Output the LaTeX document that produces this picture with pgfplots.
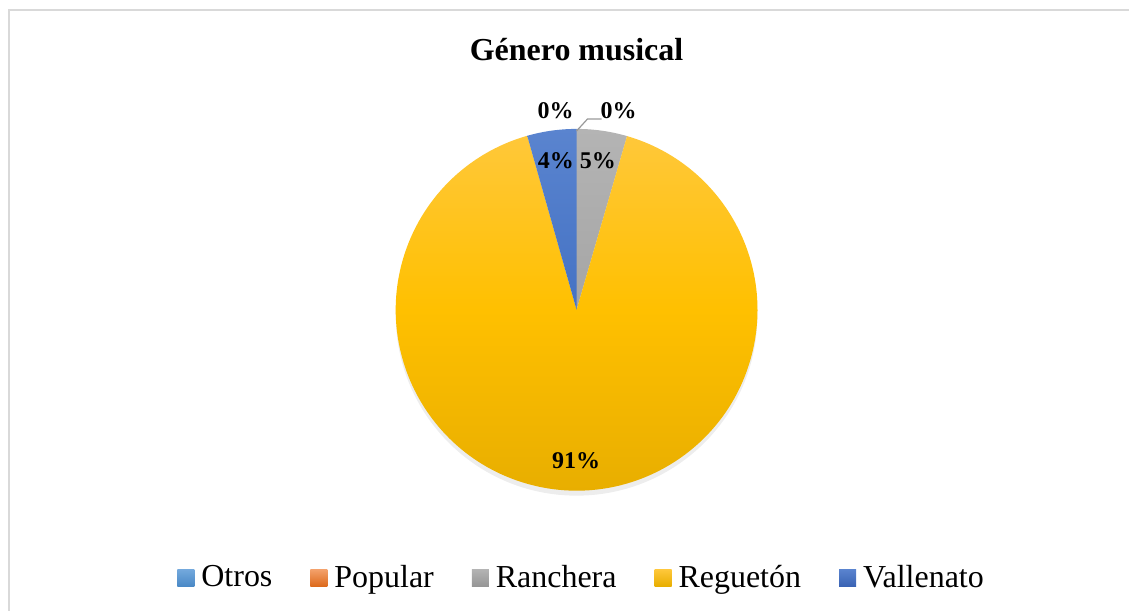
\documentclass[border=0pt]{standalone}
\usepackage{fontspec}
\setmainfont{Liberation Serif}
\usepackage{pgfplots}
\usepackage{pgfplotstable}
\pgfplotsset{compat=1.18}

% Office palette, light top / base / dark bottom
\definecolor{otrosT}{HTML}{74A9DD}\definecolor{otrosM}{HTML}{5B9BD5}\definecolor{otrosB}{HTML}{4A89C6}
\definecolor{popT}{HTML}{F4A26C}\definecolor{popM}{HTML}{ED7D31}\definecolor{popB}{HTML}{DD6A1C}
\definecolor{ranT}{HTML}{B4B4B4}\definecolor{ranM}{HTML}{A5A5A5}\definecolor{ranB}{HTML}{969696}
\definecolor{regT}{HTML}{FFC83C}\definecolor{regM}{HTML}{FFC000}\definecolor{regB}{HTML}{E8AE00}
\definecolor{valT}{HTML}{5A84CF}\definecolor{valM}{HTML}{4472C4}\definecolor{valB}{HTML}{3A63B4}

\pgfplotstableread{
genre value
Otros 0
Popular 0
Ranchera 4.5
Regueton 91.1
Vallenato 4.4
}\genretable

% pie centre (px coords, y up) and radius
\def\cx{577}\def\cy{301}
\def\R{90.5pt}

\newcommand\slice[5]{%
  \begin{scope}
    \clip (axis cs:\cx,\cy) -- ([shift={(#1:\R)}]axis cs:\cx,\cy)
      arc[start angle=#1, end angle=#2, radius=\R] -- cycle;
    \shade[top color=#3, bottom color=#5, middle color=#4]
      ([shift={(-91pt,-91pt)}]axis cs:\cx,\cy) rectangle ([shift={(91pt,91pt)}]axis cs:\cx,\cy);
  \end{scope}}

\begin{document}
\begin{tikzpicture}
\pgfplotstablegetelem{0}{value}\of\genretable \let\vOtr\pgfplotsretval
\pgfplotstablegetelem{1}{value}\of\genretable \let\vPop\pgfplotsretval
\pgfplotstablegetelem{2}{value}\of\genretable \let\vRan\pgfplotsretval
\pgfplotstablegetelem{3}{value}\of\genretable \let\vReg\pgfplotsretval
\pgfplotstablegetelem{4}{value}\of\genretable \let\vVal\pgfplotsretval
\pgfmathsetmacro\tot{\vOtr+\vPop+\vRan+\vReg+\vVal}
\pgfmathsetmacro\aS{90-360*((\vOtr+\vPop)/\tot)}
\pgfmathsetmacro\aA{\aS-360*(\vRan/\tot)}
\pgfmathsetmacro\aB{\aA-360*(\vReg/\tot)}
\pgfmathsetmacro\aC{\aB-360*(\vVal/\tot)}
\pgfmathsetmacro\mA{(\aS+\aA)/2}
\pgfmathsetmacro\mB{(\aA+\aB)/2}
\pgfmathsetmacro\mC{(\aB+\aC)/2}
\begin{axis}[
  hide axis, clip=false,
  x=0.5pt, y=0.5pt,
  xmin=0, xmax=1130, ymin=0, ymax=611,
  legend style={draw=none, fill=none, at={(axis cs:583,33)}, anchor=center,
    font=\fontsize{16}{19}\selectfont,
    /tikz/every odd column/.append style={column sep=1.5pt},
    /tikz/every even column/.append style={column sep=17pt}},
  legend columns=-1,
  legend image code/.code={\path[#1, draw=none] (0pt,-4.25pt) rectangle (8.5pt,4.25pt);},
]
\path (axis cs:0,0) rectangle (axis cs:1130,611);
\draw[color=black!15, line width=0.8pt] (axis cs:9,0) -- (axis cs:9,601) -- (axis cs:1130,601);

\node[font=\fontsize{16}{19}\selectfont\bfseries] at (axis cs:577,561) {Género musical};

% soft shadow
\fill[black, opacity=0.07] ([yshift=-2.5pt]axis cs:\cx,\cy) circle[radius=90.5pt];

\slice{\aS}{\aA}{ranT}{ranM}{ranB}
\slice{\aA}{\aB}{regT}{regM}{regB}
\slice{\aB}{\aC}{valT}{valM}{valB}

\begin{scope}[font=\fontsize{12}{14}\selectfont\bfseries]
\node at ([shift={(\mA:75.5pt)}]axis cs:\cx,\cy) {5\%};
\node at ([shift={(\mB:75.5pt)}]axis cs:\cx,\cy) {91\%};
\node at ([shift={(\mC:75.5pt)}]axis cs:\cx,\cy) {4\%};
\node at (axis cs:556,500) {0\%};
\node at (axis cs:619,500) {0\%};
\end{scope}
\draw[color=black!40, line width=0.6pt] (axis cs:577,480) -- (axis cs:588,492) -- (axis cs:602,492);

\addlegendimage{top color=otrosT, bottom color=otrosB}
\addlegendentry{Otros}
\addlegendimage{top color=popT, bottom color=popB}
\addlegendentry{Popular}
\addlegendimage{top color=ranT, bottom color=ranB}
\addlegendentry{Ranchera}
\addlegendimage{top color=regT, bottom color=regB}
\addlegendentry{Reguetón}
\addlegendimage{top color=valT, bottom color=valB}
\addlegendentry{Vallenato}
\end{axis}
\end{tikzpicture}
\end{document}
